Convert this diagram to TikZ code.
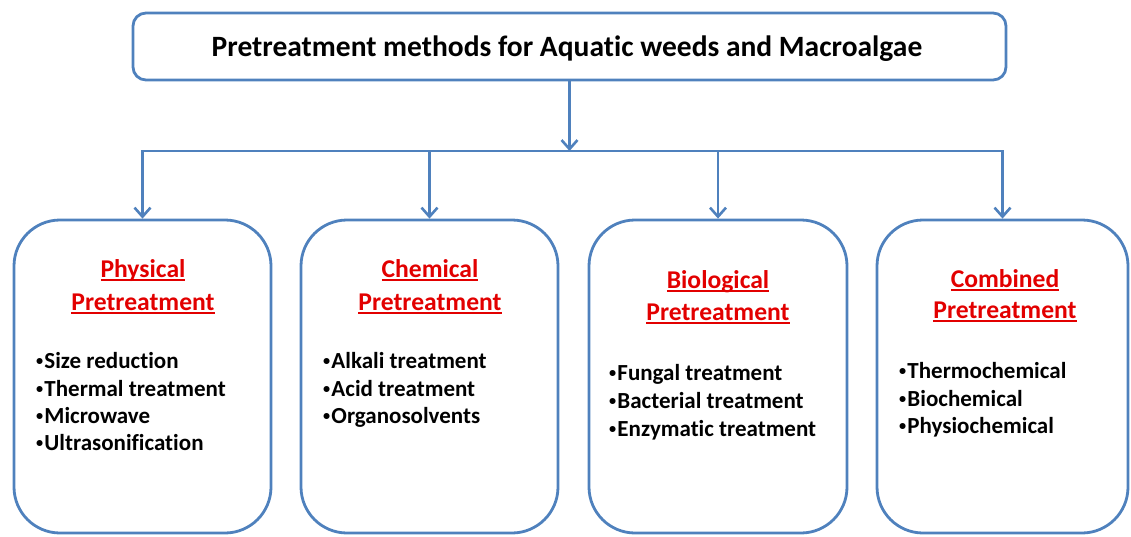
\documentclass[tikz,border=0pt]{standalone}
\usepackage{graphicx}
\usepackage{fontspec}
\setmainfont{Carlito}[Ligatures=NoCommon]
\usetikzlibrary{arrows.meta}
\definecolor{lineblue}{RGB}{79,129,189}
\definecolor{headred}{RGB}{226,0,0}
\newcommand\myul[1]{\setbox0\hbox{#1}\rlap{\rule[-0.16em]{\wd0}{0.065em}}\box0}
\newcommand\bul{\raisebox{0.1em}{\scalebox{0.62}{•}}\kern0.05em}
\begin{document}
\begin{tikzpicture}[x=1pt,y=-1pt,
  boxstyle/.style={draw=lineblue, line width=2.8pt, rounded corners=46pt, minimum width=257pt, minimum height=313pt, inner sep=0pt},
  topstyle/.style={draw=lineblue, line width=2.8pt, rounded corners=13pt, minimum width=873pt, minimum height=67pt, inner sep=0pt},
  conn/.style={draw=lineblue, line width=2.8pt},
  arr/.style={conn, -{Straight Barb[length=9pt,width=16pt,line width=2.6pt]}},
  titletext/.style={font=\bfseries\fontsize{29.5}{34}\selectfont, anchor=base, inner sep=0pt},
  head/.style={font=\bfseries\fontsize{25.6}{30}\selectfont, text=headred, anchor=base, inner sep=0pt},
  item/.style={font=\bfseries\fontsize{23}{27}\selectfont, anchor=base west, inner sep=0pt},
]
\useasboundingbox (0,0) rectangle (1131,536);

% top box
\node[topstyle] (top) at (569.5,46.5) {};
\node[titletext] (ttl) at (567,56) {Pretreatment methods for Aquatic weeds and Macroalgae};

% category boxes
\node[boxstyle] (b1) at (142.5,376.5) {};
\node[boxstyle] (b2) at (429.5,376.5) {};
\node[boxstyle, minimum width=258pt] (b3) at (718,376.5) {};
\node[boxstyle, minimum width=251pt] (b4) at (1002.5,376.5) {};

% connectors
\coordinate (hub) at (569.5,151);
\draw[conn, line cap=rect] (b1.north |- hub) -- (b4.north |- hub);
\draw[arr] (top.south) -- (top.south |- hub);
\draw[arr] (b1.north |- hub) -- (b1.north);
\draw[arr] (b2.north |- hub) -- (b2.north);
\draw[arr] (b3.north |- hub) -- (b3.north);
\draw[arr] (b4.north |- hub) -- (b4.north);

% box 1
\node[head] (h1a) at (143,277) {\myul{Physical}};
\node[head] (h1b) at (143,310) {\myul{Pretreatment}};
\node[item] (i11) at (36,368) {\bul Size reduction};
\node[item] (i12) at (36,396) {\bul Thermal treatment};
\node[item] (i13) at (36,423) {\bul Microwave};
\node[item] (i14) at (36,450) {\bul Ultrasonification};

% box 2
\node[head] (h2a) at (430,277) {\myul{Chemical}};
\node[head] (h2b) at (430,310) {\myul{Pretreatment}};
\node[item] (i21) at (323,368) {\bul Alkali treatment};
\node[item] (i22) at (323,396) {\bul Acid treatment};
\node[item] (i23) at (323,423) {\bul Organosolvents};

% box 3
\node[head] (h3a) at (718,288) {\myul{Biological}};
\node[head] (h3b) at (718,320) {\myul{Pretreatment}};
\node[item] (i31) at (609,380) {\bul Fungal treatment};
\node[item] (i32) at (609,408) {\bul Bacterial treatment};
\node[item] (i33) at (609,436) {\bul Enzymatic treatment};

% box 4
\node[head] (h4a) at (1005,287) {\myul{Combined}};
\node[head] (h4b) at (1005,318) {\myul{Pretreatment}};
\node[item] (i41) at (899,378) {\bul Thermochemical};
\node[item] (i42) at (899,406) {\bul Biochemical};
\node[item] (i43) at (899,433) {\bul Physiochemical};
\end{tikzpicture}
\end{document}
